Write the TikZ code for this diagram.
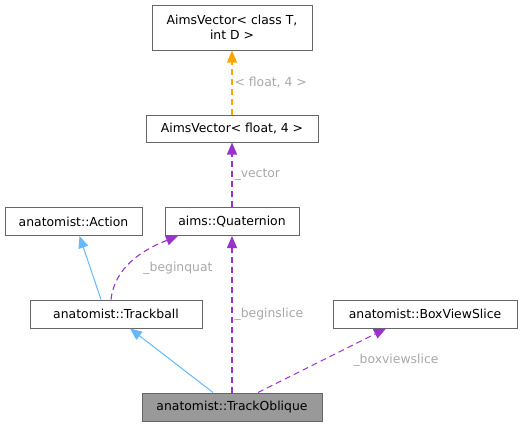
\documentclass[tikz,border=0pt]{standalone}
\usepackage{fontspec}
\setmainfont{DejaVu Sans}
\usetikzlibrary{arrows.meta,calc}
\definecolor{edgepurple}{HTML}{9A32CD}
\definecolor{edgeblue}{HTML}{63B8FF}
\definecolor{edgeorange}{HTML}{FFA500}
\definecolor{boxborder}{HTML}{666666}
\definecolor{labelgray}{HTML}{A8A8A8}
\definecolor{mainfill}{HTML}{999999}
\begin{document}
\begin{tikzpicture}[x=1pt,y=-1pt,
  box/.style={draw=boxborder,line width=1pt,fill=white,inner sep=0pt,font=\fontsize{12.4}{14.5}\selectfont,align=center},
  lbl/.style={text=labelgray,font=\fontsize{12.4}{14.5}\selectfont,inner sep=1pt},
  inherit/.style={-{Triangle[length=12pt,width=10pt,fill=edgeblue]},draw=edgeblue,line width=1pt},
  usage/.style={-{Triangle[length=12pt,width=10pt,fill=edgepurple]},draw=edgepurple,line width=1.1pt,dash pattern=on 6pt off 4pt},
  tmpl/.style={-{Triangle[length=12pt,width=10pt,fill=edgeorange]},draw=edgeorange,line width=1.1pt,dash pattern=on 6pt off 4pt}]
\useasboundingbox (0,0) rectangle (523,426);
\node[box,minimum width=160pt,minimum height=45pt] (avtd) at (232,27.5) {AimsVector\textless{} class T,\\int D \textgreater{}};
\node[box,minimum width=172pt,minimum height=27pt] (avf) at (232,128.5) {AimsVector\textless{} float, 4 \textgreater{}};
\node[box,minimum width=137pt,minimum height=28pt] (action) at (73.5,221.5) {anatomist::Action};
\node[box,minimum width=134pt,minimum height=28pt] (quat) at (232,221.5) {aims::Quaternion};
\node[box,minimum width=172pt,minimum height=28pt] (trackball) at (116,314) {anatomist::Trackball};
\node[box,minimum width=184pt,minimum height=28pt] (bvs) at (425,314) {anatomist::BoxViewSlice};
\node[box,fill=mainfill,minimum width=180pt,minimum height=28pt] (oblique) at (232,407) {anatomist::TrackOblique};

\draw[tmpl] (avf.north) -- (avtd.south) node[lbl,midway,right,xshift=1pt] {\textless{} float, 4 \textgreater{}};
\draw[usage] (quat.north) -- (avf.south) node[lbl,midway,right,xshift=1pt] {\_vector};
\draw[inherit] ($(trackball.north)+(-15,0)$) -- ($(action.south)+(6,0)$);
\draw[usage] ($(trackball.north)+(-5,0)$) .. controls (114,274) and (132,254) .. ($(quat.south)+(-54,0)$);
\node[lbl] (lbq) at (178,268) {\_beginquat};
\draw[inherit] ($(oblique.north)+(-19,0)$) -- ($(trackball.south)+(14,0)$);
\draw[usage] (oblique.north) -- (quat.south) node[lbl,pos=0.5,right,xshift=1pt] {\_beginslice};
\draw[usage] ($(oblique.north)+(26,0)$) -- ($(bvs.south)+(-39,0)$);
\node[lbl] (lbv) at (396,360) {\_boxviewslice};
\end{tikzpicture}
\end{document}
